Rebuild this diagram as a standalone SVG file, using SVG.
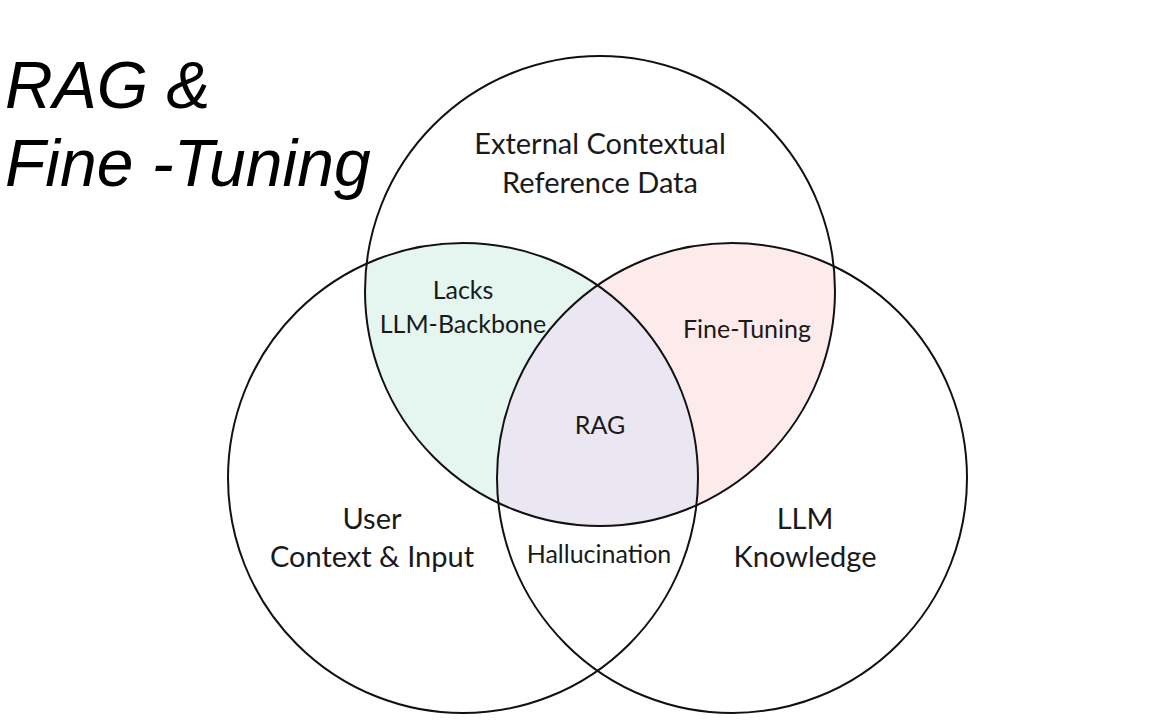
<svg xmlns="http://www.w3.org/2000/svg" width="1153" height="727" viewBox="0 0 1153 727">
<style>
.c{fill:none;stroke:#111;stroke-width:2}
.t{font-family:Lato,"Open Sans","Liberation Sans",sans-serif;fill:#1a1a1a;text-anchor:middle}
.big{font-size:29px}
.sm{font-size:25px}
.title{font-family:"Liberation Sans",Arial,sans-serif;font-style:italic;font-size:66px;fill:#000}
</style>
<defs>
<clipPath id="cTop"><circle cx="600" cy="291" r="235"/></clipPath>
<clipPath id="cLeft"><circle cx="463" cy="478" r="235"/></clipPath>
<clipPath id="cRight"><circle cx="732" cy="478" r="235"/></clipPath>
</defs>
<rect width="1153" height="727" fill="#fff"/>
<g id="title">
<text class="title" x="5" y="108">RAG &amp;</text>
<text class="title" x="5" y="186">Fine -Tuning</text>
</g>
<g id="fills">
<g clip-path="url(#cTop)"><circle cx="463" cy="478" r="235" fill="#e5f5f0"/></g>
<g clip-path="url(#cTop)"><circle cx="732" cy="478" r="235" fill="#fcebea"/></g>
<g clip-path="url(#cTop)"><g clip-path="url(#cLeft)"><circle cx="732" cy="478" r="235" fill="#ebe7f2"/></g></g>
</g>
<g id="circles">
<circle id="top" class="c" cx="600" cy="291" r="235"/>
<circle id="left" class="c" cx="463" cy="478" r="235"/>
<circle id="right" class="c" cx="732" cy="478" r="235"/>
</g>
<g id="external"><text class="t big" x="600" y="154">External Contextual</text><text class="t big" x="600" y="193">Reference Data</text></g>
<g id="lacks"><text class="t sm" x="463" y="299">Lacks</text><text class="t sm" x="463" y="333">LLM-Backbone</text></g>
<g id="finetuning"><text class="t sm" x="747" y="338">Fine-Tuning</text></g>
<g id="rag"><text class="t sm" x="600" y="434">RAG</text></g>
<g id="user"><text class="t big" x="372" y="529">User</text><text class="t big" x="372" y="567">Context &amp; Input</text></g>
<g id="hallucination"><text class="t sm" x="599" y="563">Hallucination</text></g>
<g id="llm"><text class="t big" x="805" y="529">LLM</text><text class="t big" x="805" y="567">Knowledge</text></g>
</svg>
